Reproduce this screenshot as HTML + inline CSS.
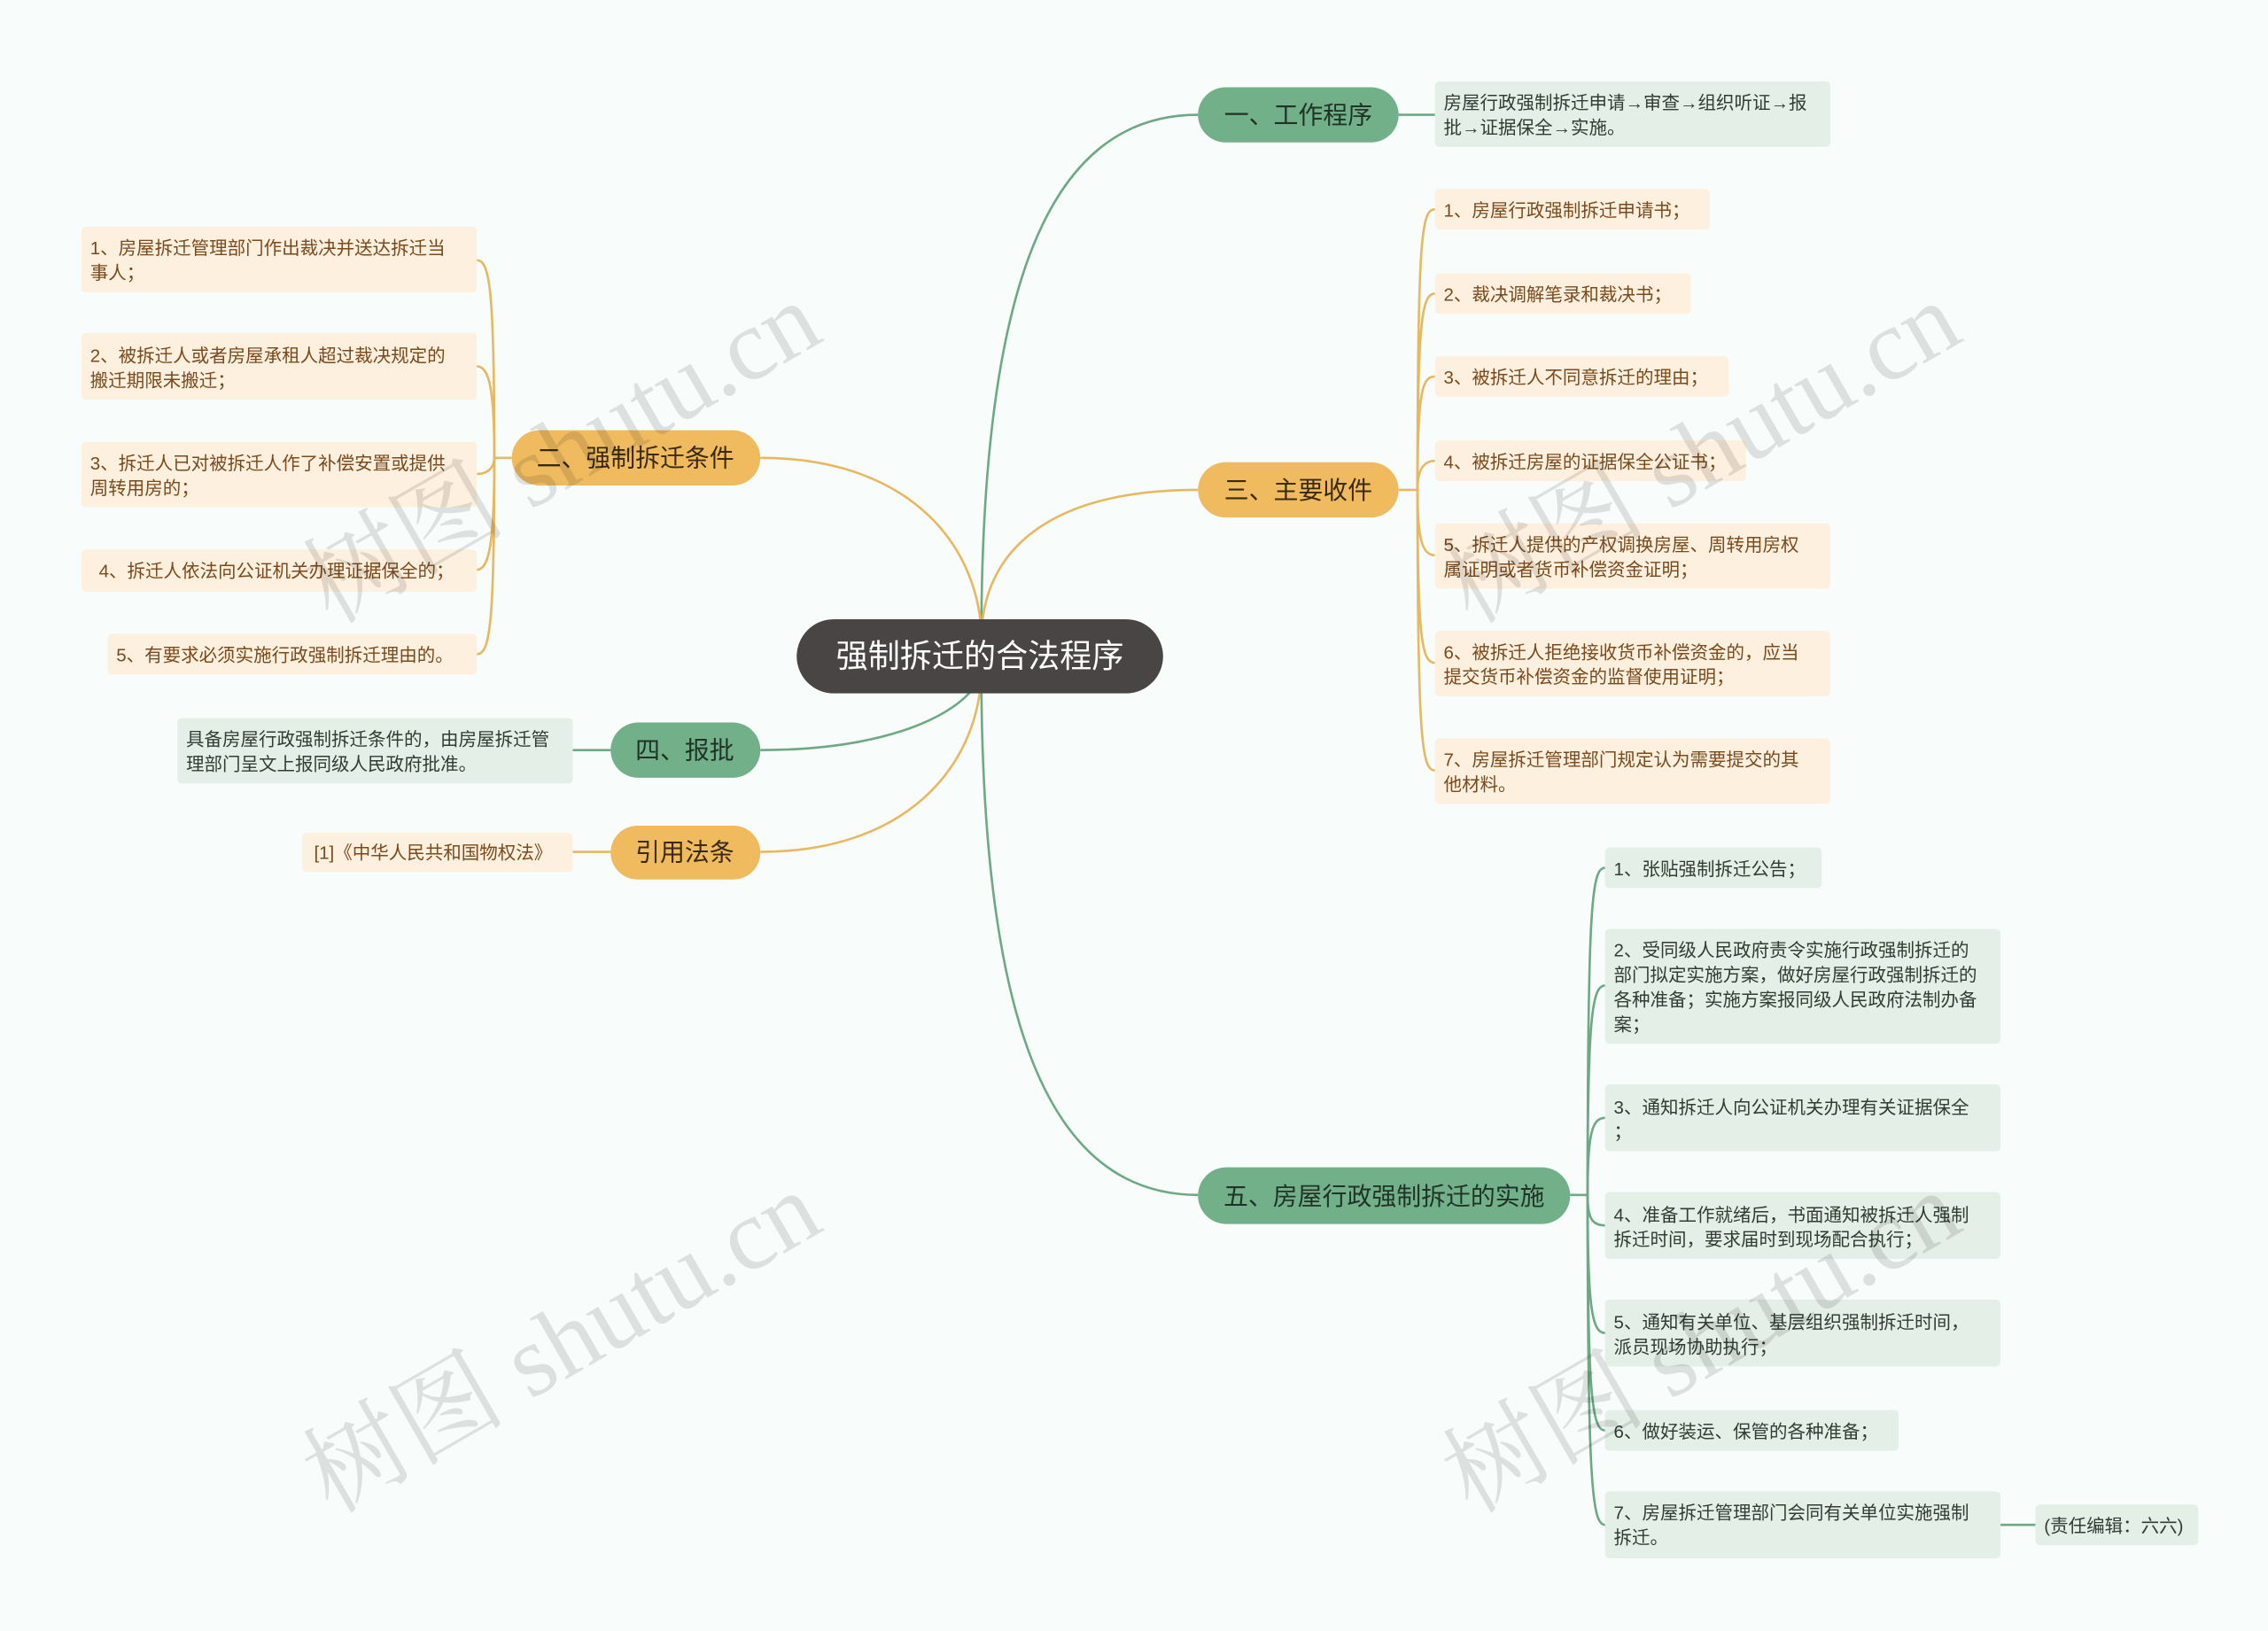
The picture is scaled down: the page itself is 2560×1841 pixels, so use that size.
<!DOCTYPE html>
<html><head><meta charset="utf-8"><style>
html,body{margin:0;padding:0;background:#f8fdfc;}
svg{display:block}
text{font-family:"Liberation Sans","Noto Sans CJK SC",sans-serif;}
.lf{font-size:12.5px;fill:#2f3d33}
.lo{font-size:12.5px;fill:#7a4a1c}
.wm{font-family:"Liberation Serif","Noto Serif CJK SC",serif;}
</style></head><body>
<svg width="2560" height="1841" viewBox="0 0 1560 1122" preserveAspectRatio="none" xmlns="http://www.w3.org/2000/svg">
<rect width="1560" height="1122" fill="#f8fdfc"/>
<g fill="none" stroke-width="1.6">
<path d="M675 440 C675 200 720 79 824 79" stroke="#6fa884"/>
<path d="M675 440 C675 380 720 337 824 337" stroke="#e8b860"/>
<path d="M675 460 C675 700 720 822 824 822" stroke="#6fa884"/>
<path d="M675 440 C675 380 630 315 523 315" stroke="#e8b860"/>
<path d="M675 460 C675 480 630 516 523 516" stroke="#6fa884"/>
<path d="M675 460 C675 520 630 586 523 586" stroke="#e8b860"/>
<path d="M962 79 L987 79" stroke="#6fa884"/>
<g stroke="#e8b860">
<path d="M962 337 L975 337"/>
<path d="M975 337 C975 160 978 144 987 144"/>
<path d="M975 337 C975 220 978 202 987 202"/>
<path d="M975 337 C975 270 978 259 987 259"/>
<path d="M975 337 C975 325 978 317 987 317"/>
<path d="M975 337 C975 370 978 382 987 382"/>
<path d="M975 337 C975 440 978 456 987 456"/>
<path d="M975 337 C975 510 978 530 987 530"/>
</g>
<g stroke="#6fa884">
<path d="M1080 822 L1092 822"/>
<path d="M1092 822 C1092 620 1095 597 1104 597"/>
<path d="M1092 822 C1092 700 1095 678 1104 678"/>
<path d="M1092 822 C1092 780 1095 769 1104 769"/>
<path d="M1092 822 C1092 838 1095 843 1104 843"/>
<path d="M1092 822 C1092 900 1095 917 1104 917"/>
<path d="M1092 822 C1092 960 1095 984 1104 984"/>
<path d="M1092 822 C1092 1020 1095 1049 1104 1049"/>
<path d="M1376 1049 L1400 1049"/>
</g>
<g stroke="#e8b860">
<path d="M352 315 L340 315"/>
<path d="M340 315 C340 200 337 179 328 179"/>
<path d="M340 315 C340 270 337 252 328 252"/>
<path d="M340 315 C340 320 337 326 328 326"/>
<path d="M340 315 C340 370 337 392 328 392"/>
<path d="M340 315 C340 430 337 450 328 450"/>
<path d="M420 586 L394 586"/>
</g>
<path d="M420 516 L394 516" stroke="#6fa884"/>
</g>

<rect x="548" y="426" width="252" height="51" rx="25.5" fill="#4a4545"/>
<text x="674" y="459" font-size="22" fill="#fff" text-anchor="middle">强制拆迁的合法程序</text>

<rect x="824" y="60" width="138" height="38" rx="19" fill="#72b089"/>
<text x="893" y="85" font-size="17" fill="#1f3326" text-anchor="middle">一、工作程序</text>
<rect x="824" y="318" width="138" height="38" rx="19" fill="#f0bb5e"/>
<text x="893" y="343" font-size="17" fill="#3a2a10" text-anchor="middle">三、主要收件</text>
<rect x="824" y="803" width="256" height="39" rx="19.5" fill="#72b089"/>
<text x="952" y="829" font-size="17" fill="#1f3326" text-anchor="middle">五、房屋行政强制拆迁的实施</text>
<rect x="352" y="296" width="171" height="38" rx="19" fill="#f0bb5e"/>
<text x="437" y="321" font-size="17" fill="#3a2a10" text-anchor="middle">二、强制拆迁条件</text>
<rect x="420" y="497" width="103" height="38" rx="19" fill="#72b089"/>
<text x="471" y="522" font-size="17" fill="#1f3326" text-anchor="middle">四、报批</text>
<rect x="420" y="568" width="103" height="37" rx="18.5" fill="#f0bb5e"/>
<text x="471" y="592" font-size="17" fill="#3a2a10" text-anchor="middle">引用法条</text>

<g fill="#e3efe7">
<rect x="987" y="56" width="272" height="45" rx="3"/>
<rect x="1104" y="583" width="149" height="28" rx="3"/>
<rect x="1104" y="639" width="272" height="79" rx="3"/>
<rect x="1104" y="746" width="272" height="46" rx="3"/>
<rect x="1104" y="820" width="272" height="46" rx="3"/>
<rect x="1104" y="894" width="272" height="46" rx="3"/>
<rect x="1104" y="970" width="202" height="28" rx="3"/>
<rect x="1104" y="1026" width="272" height="46" rx="3"/>
<rect x="1400" y="1035" width="112" height="28" rx="3"/>
<rect x="122" y="494" width="272" height="45" rx="3"/>
</g>
<g class="lf">
<text x="993" y="75">房屋行政强制拆迁申请→审查→组织听证→报</text><text x="993" y="92">批→证据保全→实施。</text>
<text x="1110" y="602">1、张贴强制拆迁公告；</text>
<text x="1110" y="658">2、受同级人民政府责令实施行政强制拆迁的</text><text x="1110" y="675">部门拟定实施方案，做好房屋行政强制拆迁的</text><text x="1110" y="692">各种准备；实施方案报同级人民政府法制办备</text><text x="1110" y="709">案；</text>
<text x="1110" y="766">3、通知拆迁人向公证机关办理有关证据保全</text><text x="1110" y="783">；</text>
<text x="1110" y="840">4、准备工作就绪后，书面通知被拆迁人强制</text><text x="1110" y="857">拆迁时间，要求届时到现场配合执行；</text>
<text x="1110" y="914">5、通知有关单位、基层组织强制拆迁时间，</text><text x="1110" y="931">派员现场协助执行；</text>
<text x="1110" y="989">6、做好装运、保管的各种准备；</text>
<text x="1110" y="1045">7、房屋拆迁管理部门会同有关单位实施强制</text><text x="1110" y="1062">拆迁。</text>
<text x="1406" y="1054">(责任编辑：六六)</text>
<text x="128" y="513">具备房屋行政强制拆迁条件的，由房屋拆迁管</text><text x="128" y="530">理部门呈文上报同级人民政府批准。</text>
</g>

<g fill="#fdf0df">
<rect x="987" y="130" width="189" height="28" rx="3"/>
<rect x="987" y="188" width="176" height="28" rx="3"/>
<rect x="987" y="245" width="202" height="28" rx="3"/>
<rect x="987" y="303" width="214" height="28" rx="3"/>
<rect x="987" y="360" width="272" height="45" rx="3"/>
<rect x="987" y="434" width="272" height="45" rx="3"/>
<rect x="987" y="508" width="272" height="45" rx="3"/>
<rect x="56" y="156" width="272" height="45" rx="3"/>
<rect x="56" y="229" width="272" height="46" rx="3"/>
<rect x="56" y="304" width="272" height="45" rx="3"/>
<rect x="56" y="378" width="272" height="29" rx="3"/>
<rect x="74" y="436" width="254" height="28" rx="3"/>
<rect x="208" y="573" width="186" height="27" rx="3"/>
</g>
<g class="lo">
<text x="993" y="149">1、房屋行政强制拆迁申请书；</text>
<text x="993" y="207">2、裁决调解笔录和裁决书；</text>
<text x="993" y="264">3、被拆迁人不同意拆迁的理由；</text>
<text x="993" y="322">4、被拆迁房屋的证据保全公证书；</text>
<text x="993" y="379">5、拆迁人提供的产权调换房屋、周转用房权</text><text x="993" y="396">属证明或者货币补偿资金证明；</text>
<text x="993" y="453">6、被拆迁人拒绝接收货币补偿资金的，应当</text><text x="993" y="470">提交货币补偿资金的监督使用证明；</text>
<text x="993" y="527">7、房屋拆迁管理部门规定认为需要提交的其</text><text x="993" y="544">他材料。</text>
<text x="62" y="175">1、房屋拆迁管理部门作出裁决并送达拆迁当</text><text x="62" y="192">事人；</text>
<text x="62" y="249">2、被拆迁人或者房屋承租人超过裁决规定的</text><text x="62" y="266">搬迁期限未搬迁；</text>
<text x="62" y="323">3、拆迁人已对被拆迁人作了补偿安置或提供</text><text x="62" y="340">周转用房的；</text>
<text x="68" y="397">4、拆迁人依法向公证机关办理证据保全的；</text>
<text x="80" y="455">5、有要求必须实施行政强制拆迁理由的。</text>
<text x="216" y="591">[1]《中华人民共和国物权法》</text>
</g>

<g font-size="70" fill="#000" fill-opacity="0.11">
<text class="wm" transform="translate(228,430) rotate(-30)">树图 shutu.cn</text>
<text class="wm" transform="translate(1012,430) rotate(-30)">树图 shutu.cn</text>
<text class="wm" transform="translate(228,1042) rotate(-30)">树图 shutu.cn</text>
<text class="wm" transform="translate(1012,1042) rotate(-30)">树图 shutu.cn</text>
</g>
</svg>
</body></html>
